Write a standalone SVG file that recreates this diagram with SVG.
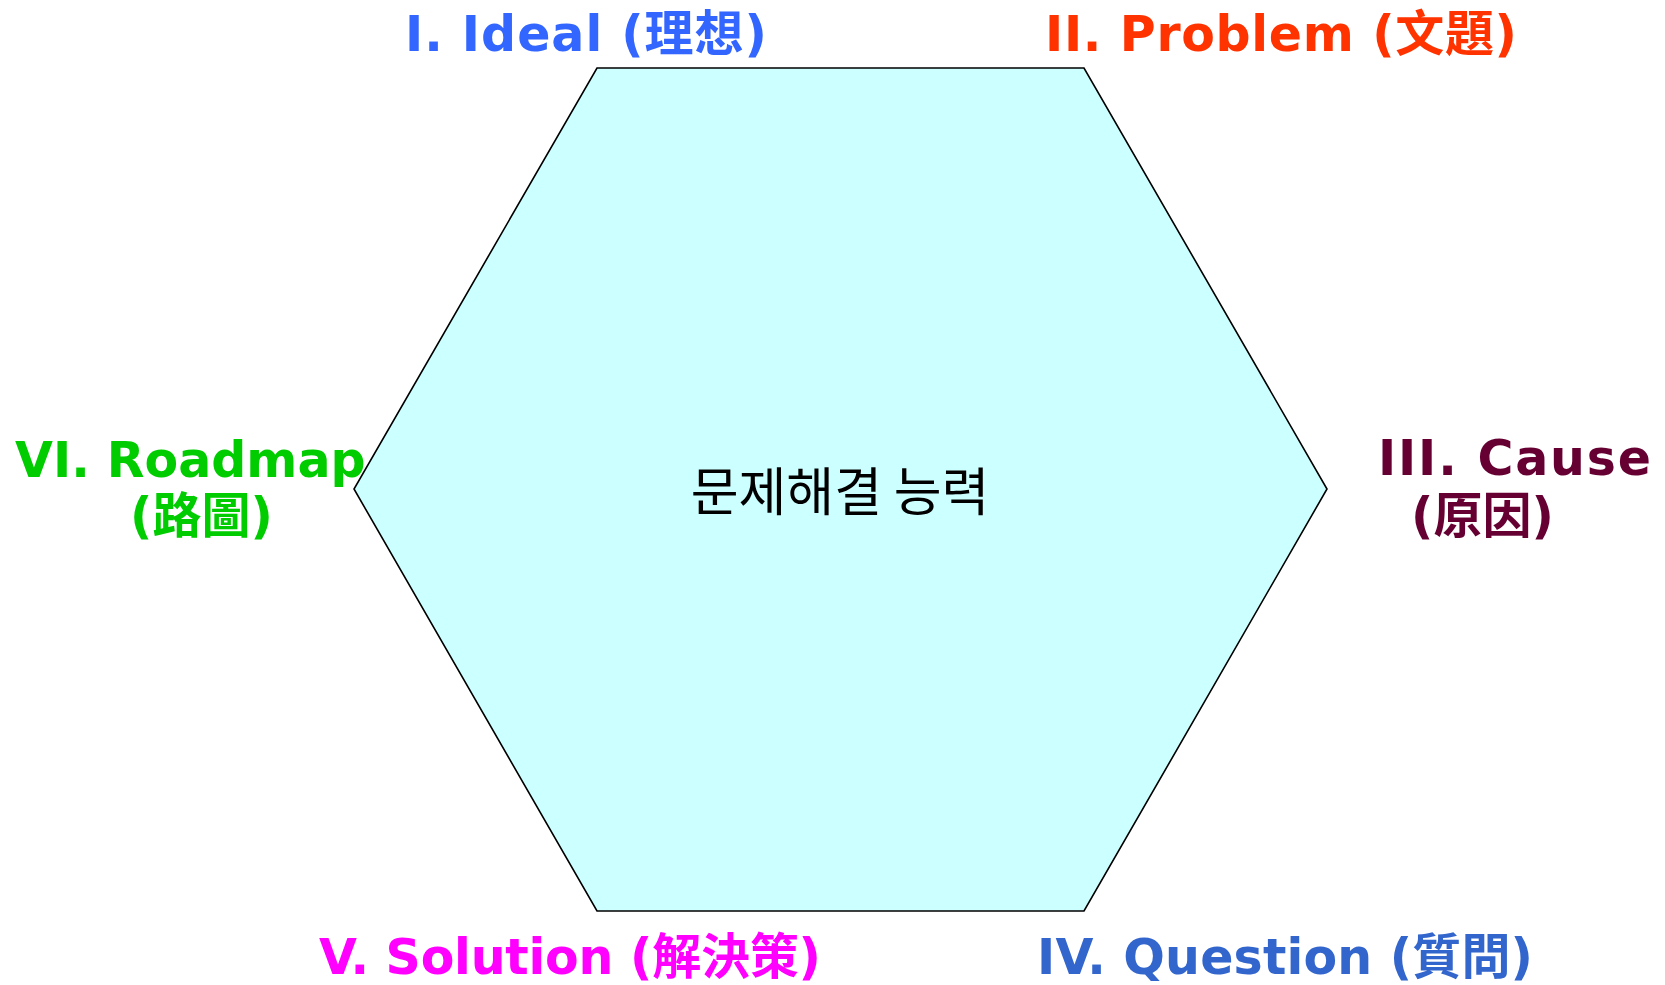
<svg xmlns="http://www.w3.org/2000/svg" width="1665" height="985" viewBox="0 0 1665 985">
<style>
.lbl{font-family:"DejaVu Sans","Noto Sans CJK TC",sans-serif;font-weight:bold;font-size:49px}
.ctr{font-family:"Noto Sans CJK KR","Noto Sans CJK SC",sans-serif;font-size:52px;fill:#000}
</style>
<rect width="1665" height="985" fill="#fff"/>
<g id="hexagon">
<polygon points="597,68 1084,68 1327,489 1084,911 597,911 354,489" fill="#CCFFFF" stroke="#000" stroke-width="1.6"/>
<text class="ctr" x="840" y="511" text-anchor="middle">문제해결 능력</text>
</g>
<g id="ideal"><text class="lbl" x="405" y="51" fill="#3366FF" textLength="362" lengthAdjust="spacing">I. Ideal (理想)</text></g>
<g id="problem"><text class="lbl" x="1045" y="51" fill="#FF3300" textLength="472" lengthAdjust="spacing">II. Problem (文題)</text></g>
<g id="cause"><text class="lbl" x="1378" y="475" fill="#660033" textLength="273" lengthAdjust="spacing">III. Cause</text><text class="lbl" x="1411" y="533" fill="#660033">(原因)</text></g>
<g id="question"><text class="lbl" x="1037" y="974" fill="#3366CC" textLength="496" lengthAdjust="spacing">IV. Question (質問)</text></g>
<g id="solution"><text class="lbl" x="319" y="974" fill="#FF00FF" textLength="502" lengthAdjust="spacing">V. Solution (解決策)</text></g>
<g id="roadmap"><text class="lbl" x="15" y="477" fill="#00CC00">VI. Roadmap</text><text class="lbl" x="130" y="533" fill="#00CC00">(路圖)</text></g>
<g id="connectors"></g>
</svg>
